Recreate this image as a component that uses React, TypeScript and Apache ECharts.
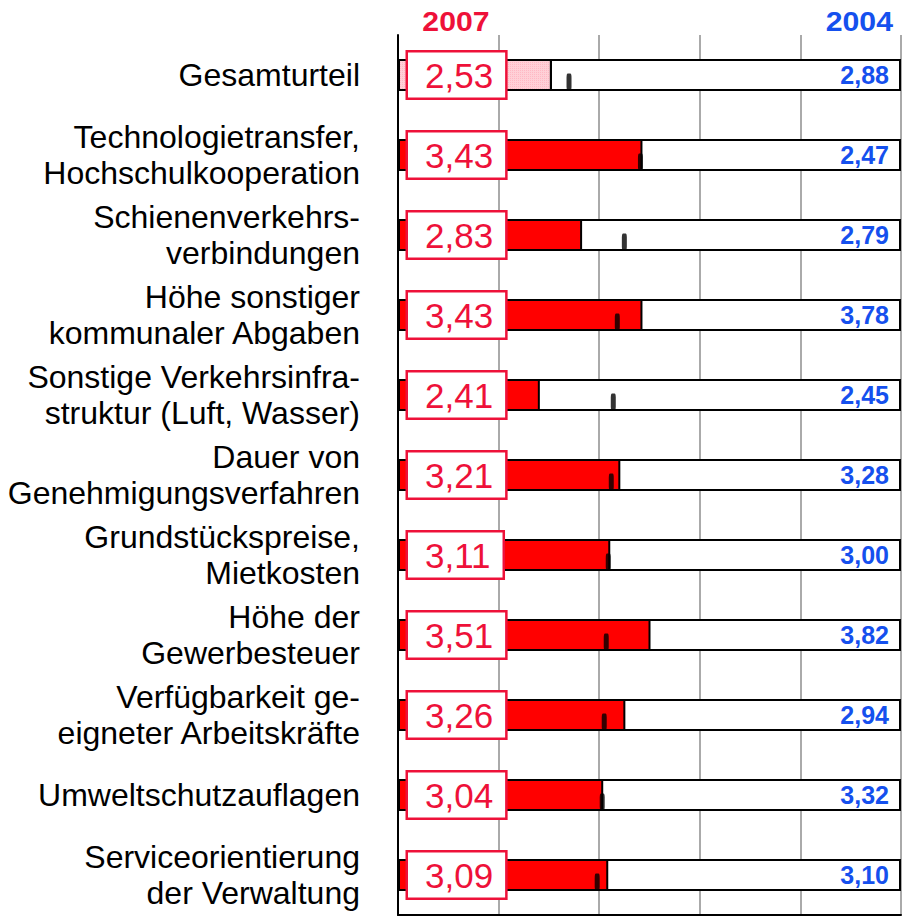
import React, { useEffect, useRef } from "react";
import * as echarts from "echarts";

const categories = [
  "Gesamturteil",
  "Technologietransfer,\nHochschulkooperation",
  "Schienenverkehrs-\nverbindungen",
  "Höhe sonstiger\nkommunaler Abgaben",
  "Sonstige Verkehrsinfra-\nstruktur (Luft, Wasser)",
  "Dauer von\nGenehmigungsverfahren",
  "Grundstückspreise,\nMietkosten",
  "Höhe der\nGewerbesteuer",
  "Verfügbarkeit ge-\neigneter Arbeitskräfte",
  "Umweltschutzauflagen",
  "Serviceorientierung\nder Verwaltung",
];

const values2007 = [2.53, 3.43, 2.83, 3.43, 2.41, 3.21, 3.11, 3.51, 3.26, 3.04, 3.09];
const values2004 = [2.88, 2.47, 2.79, 3.78, 2.45, 3.28, 3.0, 3.82, 2.94, 3.32, 3.1];
const markerValues = [2.7, 3.41, 3.25, 3.18, 3.14, 3.12, 3.09, 3.07, 3.05, 3.03, 2.98];

const SCALE_MIN = 1;
const SCALE_MAX = 6;

const fmt = (v: number) => v.toFixed(2).replace(".", ",");

const FONT = "'Liberation Sans', Arial, Helvetica, sans-serif";
const RED_TEXT = "#ee1139";
const BLUE = "#1550ee";

export default function App() {
  const ref = useRef<HTMLDivElement>(null);

  useEffect(() => {
    if (!ref.current) return;
    const chart = echarts.init(ref.current, null, { renderer: "svg" });

    const option: any = {
      animation: false,
      backgroundColor: "#ffffff",
      grid: { left: 398, right: 10, top: 35, bottom: 2, containLabel: false },
      xAxis: {
        type: "value",
        min: SCALE_MIN,
        max: SCALE_MAX,
        interval: 1,
        position: "bottom",
        axisLine: { show: true, lineStyle: { color: "#000", width: 2 } },
        axisTick: { show: false },
        axisLabel: { show: false },
        splitLine: { show: true, lineStyle: { color: "#aaaaaa", width: 2 } },
      },
      yAxis: {
        type: "category",
        inverse: true,
        data: categories,
        axisLine: { show: true, onZero: false, lineStyle: { color: "#000", width: 2 } },
        axisTick: { show: false },
        splitLine: { show: false },
        axisLabel: {
          margin: 38,
          fontSize: 32,
          lineHeight: 36,
          color: "#000",
          fontFamily: FONT,
          align: "right",
        },
      },
      series: [
        {
          name: "bg",
          type: "bar",
          data: categories.map(() => SCALE_MAX),
          barWidth: 32,
          barGap: "-100%",
          silent: true,
          z: 1,
          itemStyle: { color: "#ffffff", borderColor: "#000", borderWidth: 2 },
          label: {
            show: true,
            position: "insideRight",
            distance: 12,
            formatter: (p: any) => fmt(values2004[p.dataIndex]),
            fontFamily: FONT,
            fontSize: 25,
            fontWeight: "bold",
            color: BLUE,
          },
        },
        {
          name: "base",
          type: "bar",
          stack: "v07",
          data: categories.map(() => SCALE_MIN),
          barWidth: 32,
          barGap: "-100%",
          silent: true,
          z: 2,
          itemStyle: { color: "rgba(0,0,0,0)", borderWidth: 0 },
        },
        {
          name: "2007",
          type: "bar",
          stack: "v07",
          data: values2007.map((v, i) => ({
            value: v - SCALE_MIN,
            itemStyle:
              i === 0
                ? {
                    color: "#ffd0d7",
                    decal: {
                      symbol: "rect",
                      symbolSize: 1,
                      dashArrayX: [1, 1],
                      dashArrayY: [1, 1],
                      color: "rgba(255,140,160,0.35)",
                      rotation: 0,
                    },
                  }
                : undefined,
          })),
          barWidth: 32,
          barGap: "-100%",
          z: 3,
          itemStyle: { color: "#ff0000", borderColor: "#000", borderWidth: 2 },
          label: {
            show: true,
            position: "insideLeft",
            distance: 10,
            formatter: (p: any) => fmt(values2007[p.dataIndex]),
            fontFamily: FONT,
            fontSize: 35,
            lineHeight: 38,
            color: RED_TEXT,
            backgroundColor: "#ffffff",
            borderColor: RED_TEXT,
            borderWidth: 2.5,
            padding: [4, 12, 3, 17],
          },
        },
        {
          name: "marker",
          type: "scatter",
          data: markerValues.map((v, i) => [v, i]),
          symbol: "roundRect",
          symbolSize: [5, 17],
          symbolOffset: [0, 7],
          itemStyle: { color: "#000" },
          z: 4,
          silent: true,
        },
      ],
      graphic: [
        {
          type: "text",
          x: 456,
          y: 22,
          scaleX: 1.12,
          style: {
            text: "2007",
            textAlign: "center",
            textVerticalAlign: "middle",
            font: `bold 27px ${FONT}`,
            fill: "#ee1139",
          },
        },
        {
          type: "text",
          x: 893,
          y: 22,
          scaleX: 1.12,
          style: {
            text: "2004",
            textAlign: "right",
            textVerticalAlign: "middle",
            font: `bold 27px ${FONT}`,
            fill: BLUE,
          },
        },
      ],
    };

    chart.setOption(option);
    return () => chart.dispose();
  }, []);

  return (
    <div
      ref={ref}
      style={{ position: "fixed", left: 0, top: 0, width: 911, height: 917 }}
    />
  );
}
